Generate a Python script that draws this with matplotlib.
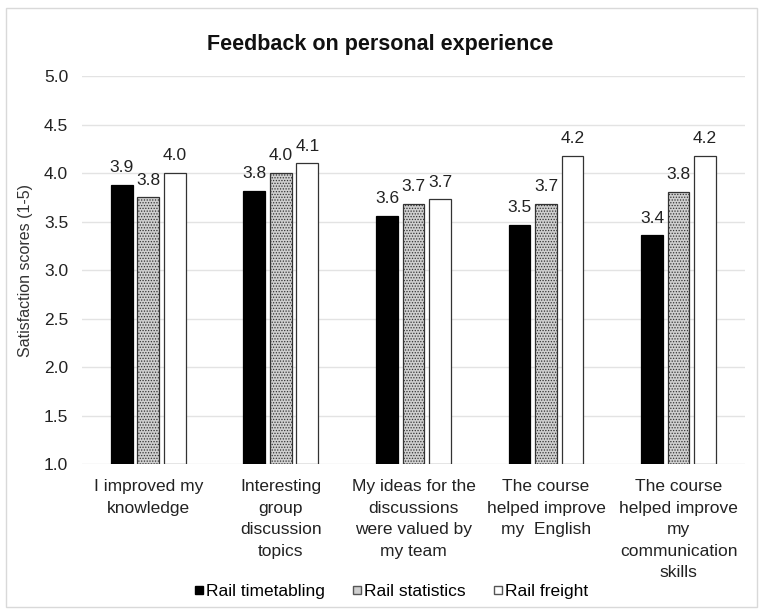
import matplotlib.pyplot as plt
from matplotlib.patches import Rectangle
from matplotlib.lines import Line2D
import numpy as np

plt.rcParams['font.family'] = ['Liberation Sans', 'DejaVu Sans']
plt.rcParams['hatch.color'] = '#8a8a8a'
plt.rcParams['hatch.linewidth'] = 0.6

categories = ["I improved my\nknowledge",
              "Interesting\ngroup\ndiscussion\ntopics",
              "My ideas for the\ndiscussions\nwere valued by\nmy team",
              "The course\nhelped improve\nmy  English",
              "The course\nhelped improve\nmy\ncommunication\nskills"]
series_names = ["Rail timetabling", "Rail statistics", "Rail freight"]
timetabling = [3.88, 3.82, 3.56, 3.47, 3.36]
statistics = [3.75, 4.0, 3.68, 3.68, 3.81]
freight = [4.0, 4.1, 3.73, 4.18, 4.18]
yticks = [1.0, 1.5, 2.0, 2.5, 3.0, 3.5, 4.0, 4.5, 5.0]

fig = plt.figure(figsize=(7.6, 6.14), dpi=100)
ax = fig.add_axes([0.108, 0.244, 0.872, 0.632])

# outer light frame like the spreadsheet chart area
fig.patches.append(Rectangle((0.008, 0.012), 0.988, 0.975, transform=fig.transFigure,
                             fill=False, edgecolor='#d9d9d9', linewidth=1.0))

x = np.arange(len(categories))
w = 0.165
off = 0.2
styles = [dict(facecolor='black', edgecolor='black'),
          dict(facecolor='#cfcfcf', edgecolor='#333333', hatch='......'),
          dict(facecolor='white', edgecolor='#333333')]

for i, vals in enumerate([timetabling, statistics, freight]):
    bars = ax.bar(x + (i - 1) * off, np.array(vals) - 1.0, w, bottom=1.0,
                  linewidth=0.9, zorder=3, **styles[i])
    for b, v in zip(bars, vals):
        ax.text(b.get_x() + b.get_width() / 2, v + 0.1, f"{v:.1f}",
                ha='center', va='bottom', fontsize=12.5, color='#222222')

ax.set_ylim(1.0, 5.0)
ax.set_yticks(yticks)
ax.set_yticklabels([f"{t:.1f}" for t in yticks])
ax.set_xlim(-0.5, len(categories) - 0.5)
ax.set_xticks(x)
ax.set_xticklabels(categories, fontsize=12.5, linespacing=1.53, va='top')
ax.tick_params(axis='both', length=0, labelsize=12.5, colors='#222222')
ax.tick_params(axis='x', pad=11)
ax.tick_params(axis='y', pad=10)
ax.grid(axis='y', color='#e3e3e3', linewidth=1.0, zorder=0)
for s in ax.spines.values():
    s.set_visible(False)
ax.set_ylabel("Satisfaction scores (1-5)", fontsize=11.5, color='#333333', labelpad=8)

fig.suptitle("Feedback on personal experience", fontsize=15.5, fontweight='bold',
             y=0.945, color='#111111')

handles = [Line2D([], [], linestyle='none', marker='s', markersize=6,
                  markerfacecolor='black', markeredgecolor='black'),
           Line2D([], [], linestyle='none', marker='s', markersize=6,
                  markerfacecolor='#cfcfcf', markeredgecolor='#555555'),
           Line2D([], [], linestyle='none', marker='s', markersize=6,
                  markerfacecolor='white', markeredgecolor='#555555')]
fig.legend(handles, series_names, loc='center', bbox_to_anchor=(0.515, 0.036), ncol=3,
           frameon=False, fontsize=12.5, handlelength=0.5,
           handletextpad=0.15, columnspacing=1.6)

fig.savefig("out.png", dpi=100, facecolor='white')
